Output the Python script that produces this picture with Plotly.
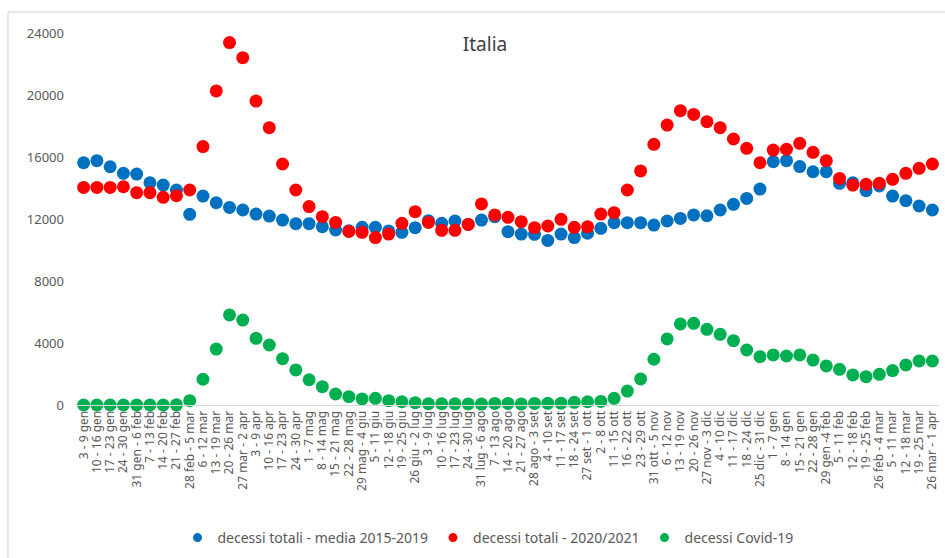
import plotly.graph_objects as go

settimane = [
    "3 - 9 gen", "10 - 16 gen", "17 - 23 gen", "24 - 30 gen", "31 gen - 6 feb",
    "7 - 13 feb", "14 - 20 feb", "21 - 27 feb", "28 feb - 5 mar", "6 - 12 mar",
    "13 - 19 mar", "20 - 26 mar", "27 mar - 2 apr", "3 - 9 apr", "10 - 16 apr",
    "17 - 23 apr", "24 - 30 apr", "1 - 7 mag", "8 - 14 mag", "15 - 21 mag",
    "22 - 28 mag", "29 mag - 4 giu", "5 - 11 giu", "12 - 18 giu", "19 - 25 giu",
    "26 giu - 2 lug", "3 - 9 lug", "10 - 16 lug", "17 - 23 lug", "24 - 30 lug",
    "31 lug - 6 ago", "7 - 13 ago", "14 - 20 ago", "21 - 27 ago", "28 ago - 3 set",
    "4 - 10 set", "11 - 17 set", "18 - 24 set", "27 set - 1 ott", "2 - 8 ott",
    "11 - 15 ott", "16 - 22 ott", "23 - 29 ott", "31 ott - 5 nov", "6 - 12 nov",
    "13 - 19 nov", "20 - 26 nov", "27 nov - 3 dic", "4 - 10 dic", "11 - 17 dic",
    "18 - 24 dic", "25 dic - 31 dic", "1 - 7 gen", "8 - 14 gen", "15 - 21 gen",
    "22 - 28 gen", "29 gen -4 feb", "5 - 11 feb", "12 - 18 feb", "19 - 25 feb",
    "26 feb - 4 mar", "5 - 11 mar", "12 - 18 mar", "19 - 25 mar", "26 mar - 1 apr",
]

media_2015_2019 = [
    15630, 15760, 15370, 14950, 14900, 14340, 14190, 13870, 12300, 13480,
    13050, 12750, 12580, 12320, 12190, 11930, 11700, 11700, 11500, 11290,
    11240, 11460, 11460, 11230, 11140, 11440, 11890, 11720, 11870, 11650,
    11930, 12150, 11180, 11030, 11010, 10620, 11030, 10800, 11080, 11400,
    11760, 11760, 11760, 11610, 11870, 12040, 12260, 12210, 12580, 12950,
    13330, 13930, 15700, 15760, 15380, 15050, 15050, 14300, 14340, 13830,
    14130, 13480, 13180, 12840, 12580,
]

totali_2020_2021 = [
    14040, 14040, 14040, 14080, 13700, 13700, 13400, 13500, 13870, 16670,
    20260, 23380, 22410, 19610, 17890, 15550, 13870, 12800, 12150, 11780,
    11200, 11140, 10800, 11030, 11720, 12470, 11780, 11270, 11270, 11650,
    12970, 12260, 12110, 11830, 11440, 11550, 11980, 11460, 11500, 12320,
    12410, 13870, 15100, 16820, 18060, 18990, 18750, 18280, 17890, 17160,
    16560, 15630, 16450, 16500, 16880, 16300, 15760, 14620, 14190, 14240,
    14300, 14560, 14950, 15270, 15550,
]

covid_19 = [
    0, 0, 0, 0, 0, 0, 0, 10, 280, 1660,
    3610, 5810, 5480, 4300, 3870, 2990, 2260, 1630, 1180, 710,
    540, 390, 430, 280, 210, 150, 80, 80, 80, 70,
    60, 100, 100, 70, 100, 110, 120, 170, 210, 230,
    430, 900, 1680, 2950, 4260, 5230, 5270, 4880, 4560, 4150,
    3550, 3120, 3230, 3160, 3230, 2900, 2520, 2300, 1940, 1830,
    1980, 2220, 2580, 2840, 2840,
]

W, H = 945, 558
L, R, T, B = 77, 6, 33, 153

fig = go.Figure()
serie = [
    ("decessi totali - media 2015-2019", media_2015_2019, "#0070C0"),
    ("decessi totali - 2020/2021", totali_2020_2021, "#FF0000"),
    ("decessi Covid-19", covid_19, "#00B050"),
]
for nome, valori, colore in serie:
    fig.add_trace(go.Scatter(
        x=settimane, y=valori, name=nome, mode="markers", showlegend=False,
        marker=dict(color=colore, size=13, line=dict(width=0)),
        cliponaxis=False,
    ))
# voci di legenda con pallini più piccoli
for nome, valori, colore in serie:
    fig.add_trace(go.Scatter(
        x=[None], y=[None], name=nome, mode="markers",
        marker=dict(color=colore, size=9, line=dict(width=0)),
    ))

# cornice del grafico (bordo grigio a sinistra e in alto)
pw, ph = W - L - R, H - T - B
fig.add_shape(
    type="rect", xref="paper", yref="paper",
    x0=(8 - L) / pw, x1=(W + 5 - L) / pw,
    y0=(H - B - (H + 10)) / ph, y1=(H - B - 12) / ph,
    line=dict(color="#d0d0d0", width=1), fillcolor="rgba(0,0,0,0)", layer="below",
)

fig.update_layout(
    width=W, height=H,
    margin=dict(l=L, r=R, t=T, b=B),
    paper_bgcolor="white", plot_bgcolor="white",
    font=dict(family="Noto Sans", color="#595959", size=12),
    title=dict(text="Italia", x=485 / W, xanchor="center", y=1 - 44 / H, yanchor="middle",
               font=dict(size=19, color="#404040")),
    showlegend=True,
    legend=dict(orientation="h", x=488 / W, xref="container", xanchor="center",
                y=1 - 538 / H, yref="container", yanchor="middle",
                font=dict(size=14, color="#595959"), itemwidth=30,
                bgcolor="rgba(0,0,0,0)"),
    xaxis=dict(
        type="category", range=[-0.5, len(settimane) - 0.5],
        tickmode="linear", tick0=0, dtick=1,
        tickangle=-90, tickfont=dict(size=12, color="#595959"),
        showgrid=False, showline=True, linecolor="#d9d9d9", linewidth=1,
        ticks="", zeroline=False,
    ),
    yaxis=dict(
        range=[0, 24000], tickvals=[0, 4000, 8000, 12000, 16000, 20000, 24000],
        tickformat="d", showgrid=False, zeroline=False, showline=False,
        tickfont=dict(size=13, color="#595959"), ticklabelstandoff=12,
    ),
)

fig.write_html("out.html", config={"displayModeBar": False},
               post_script="document.body.style.margin='0';")
